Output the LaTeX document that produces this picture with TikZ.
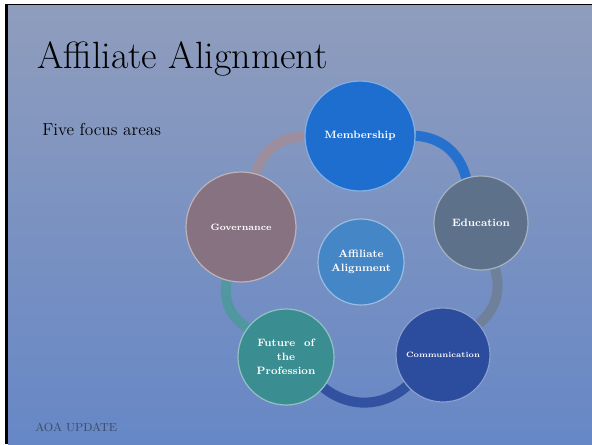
\documentclass[tikz,border=0pt]{standalone}
\usepackage{tikz}
\usetikzlibrary{backgrounds}
\definecolor{SlideTop}{HTML}{8F9DBD}
\definecolor{SlideBottom}{HTML}{6687C6}
\definecolor{MemberBlue}{HTML}{1E6ED0}
\definecolor{EduSlate}{HTML}{5E718A}
\definecolor{CommBlue}{HTML}{2C4C9E}
\definecolor{FutureTeal}{HTML}{3A8E92}
\definecolor{GovMauve}{HTML}{877282}
\definecolor{CoreBlue}{HTML}{4586C6}
\definecolor{FooterInk}{HTML}{3C4A68}

\tikzset{
  focus/.style={circle, fill=#1, draw=#1!55!white, line width=0.9pt,
    text=white, align=center, inner sep=0pt,
    font=\fontsize{8}{10.5}\selectfont\bfseries},
  ring/.style={line width=7.5pt, draw=#1, opacity=0.9}
}

\begin{document}
\begin{tikzpicture}[x=0.75pt,y=0.75pt]
    \useasboundingbox (0,0) rectangle (592,444);
    % five focus areas round the core
    \node[focus=MemberBlue, minimum size=82.5pt] (mem) at (360,308) {Membership};
    \node[focus=EduSlate, minimum size=70.5pt] (edu) at (481,221) {Education};
    \node[focus=CommBlue, minimum size=70.5pt,
      font=\fontsize{5.8}{7}\selectfont\bfseries] (com) at (443,89) {Communication};
    \node[focus=FutureTeal, minimum size=72pt] (fut) at (286,87) {Future~ of\\the\\Profession};
    \node[focus=GovMauve, minimum size=82.5pt,
      font=\fontsize{6.9}{8}\selectfont\bfseries] (gov) at (241,217) {Governance};
    \node[focus=CoreBlue, minimum size=64.5pt] (core) at (361,182) {Affiliate\\Alignment};

    % slide texts
    \node[anchor=base west, inner sep=0pt, font=\fontsize{28.5}{32}\selectfont] (title)
      at (37,376) {Affiliate Alignment};
    \node[anchor=base west, inner sep=0pt, font=\fontsize{13}{15}\selectfont] (sub)
      at (42,309) {Five focus areas};
    \node[anchor=base west, inner sep=0pt, text=FooterInk,
      font=\fontsize{8.8}{10}\selectfont] (foot) at (35,13) {AOA UPDATE};

    \begin{scope}[on background layer]
      \fill[white] (0,0) rectangle (592,444);
      \fill[black] (5,0) rectangle (592,440);
      \shade[top color=SlideTop, bottom color=SlideBottom] (8,0) rectangle (592,438);
      \draw[ring=GovMauve!80!white] (gov) to[bend left=37] (mem);
      \draw[ring=MemberBlue] (mem) to[bend left=36] (edu);
      \draw[ring=EduSlate!90!white] (edu) to[bend left=33] (com);
      \draw[ring=CommBlue] (com) to[bend left=40] (fut);
      \draw[ring=FutureTeal!90!white] (fut) to[bend left=34] (gov);
    \end{scope}
\end{tikzpicture}
\end{document}
